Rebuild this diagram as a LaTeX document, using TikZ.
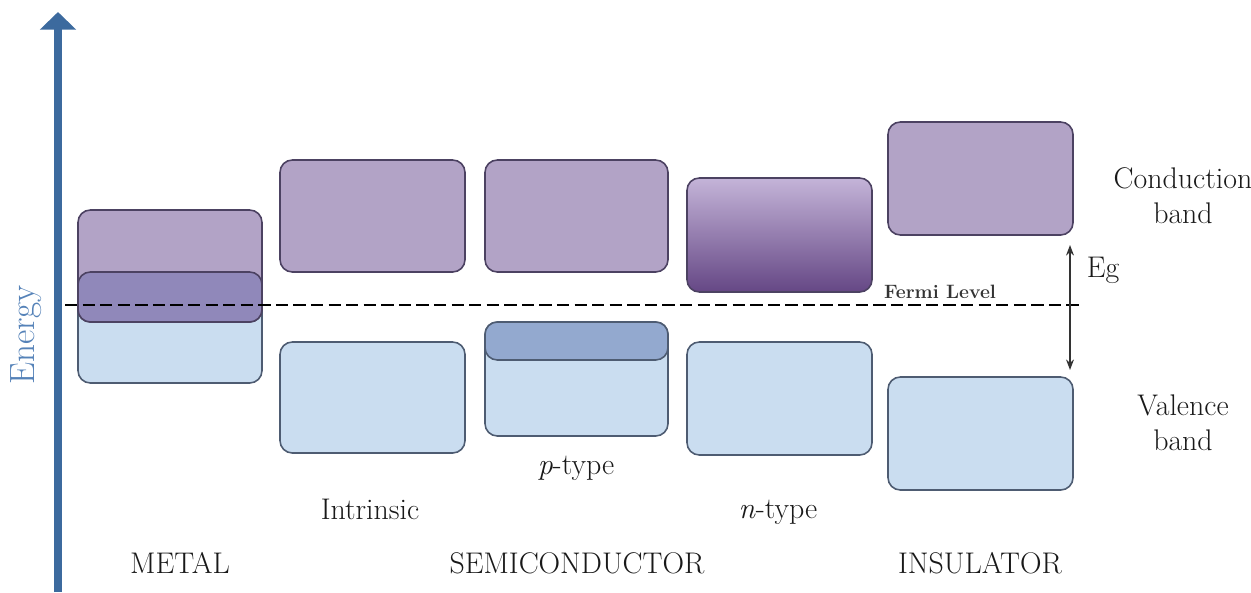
\documentclass[tikz,border=0pt]{standalone}
\usepackage{tikz}
\usetikzlibrary{arrows.meta}

\definecolor{axisblue}{HTML}{3C6A9E}
\definecolor{energyblue}{HTML}{5582B8}
\definecolor{cbfill}{HTML}{B2A3C6}
\definecolor{cbline}{HTML}{4C4262}
\definecolor{vbfill}{HTML}{CADDF0}
\definecolor{vbline}{HTML}{4E5C72}
\definecolor{mixfill}{HTML}{9088BA}
\definecolor{accfill}{HTML}{93A9CF}
\definecolor{ntop}{HTML}{C4B4D8}
\definecolor{nbot}{HTML}{654785}

\tikzset{
  cband/.style={draw=cbline,line width=0.9pt,fill=cbfill,rounded corners=7pt},
  vband/.style={draw=vbline,line width=0.9pt,fill=vbfill,rounded corners=7pt},
  lbl/.style={font=\fontsize{17}{20}\selectfont,text=black!90},
}

\begin{document}
\begin{tikzpicture}[x=0.02cm,y=-0.02cm]
        \useasboundingbox (0,0) rectangle (1251,592);
        % energy axis
        \coordinate (axbot) at (58,592);
        \coordinate (axtop) at (58,12);
        \draw[-{Triangle[width=20pt,length=10pt]},line width=4pt,axisblue] (axbot) -- (axtop);
        \node[rotate=90,text=energyblue,font=\fontsize{20}{22}\selectfont] (energy) at (26,335) {Energy};
        % metal
        \draw[vband] (78,272) rectangle (262,383);
        \draw[cband] (78,210) rectangle (262,322);
        \draw[draw=cbline,line width=0.9pt,fill=mixfill,rounded corners=7pt] (78,272) rectangle (262,322);
        % intrinsic
        \draw[cband] (280,160) rectangle (465,272);
        \draw[vband] (280,342) rectangle (465,453);
        % p-type
        \draw[cband] (485,160) rectangle (668,272);
        \draw[vband] (485,322) rectangle (668,436);
        \draw[draw=vbline,line width=0.9pt,fill=accfill,rounded corners=7pt] (485,322) rectangle (668,360);
        % n-type
        \draw[draw=cbline,line width=0.9pt,top color=ntop,bottom color=nbot,rounded corners=7pt] (687,178) rectangle (872,292);
        \draw[vband] (687,342) rectangle (872,455);
        % insulator
        \draw[cband] (888,122) rectangle (1073,235);
        \draw[vband] (888,377) rectangle (1073,490);
        % fermi level
        \coordinate (fleft) at (65,305);
        \coordinate (fright) at (1080,305);
        \draw[line width=1.7pt,dash pattern=on 7pt off 3pt] (fleft) -- (fright);
        \node[font=\fontsize{11}{13}\selectfont\bfseries,text=black!80] (fermi) at (940,292) {Fermi Level};
        % band gap
        \coordinate (egtop) at (1070,245);
        \coordinate (egbot) at (1070,370);
        \draw[{Stealth[length=6pt]}-{Stealth[length=6pt]},line width=0.9pt,black!80] (egtop) -- (egbot);
        \node[lbl] (eg) at (1103,270) {Eg};
        \node[lbl,align=center] (cbtext) at (1183,196) {Conduction\\band};
        \node[lbl,align=center] (vbtext) at (1183,423) {Valence\\band};
        % labels
        \node[lbl] (intr) at (370,509) {Intrinsic};
        \node[lbl] (ptype) at (576,468) {\textit{p}-type};
        \node[lbl] (ntype) at (778,512) {\textit{n}-type};
        \node[lbl] (metal) at (180,563) {METAL};
        \node[lbl] (semi) at (577,563) {SEMICONDUCTOR};
        \node[lbl] (insul) at (980,563) {INSULATOR};
    \end{tikzpicture}
\end{document}
